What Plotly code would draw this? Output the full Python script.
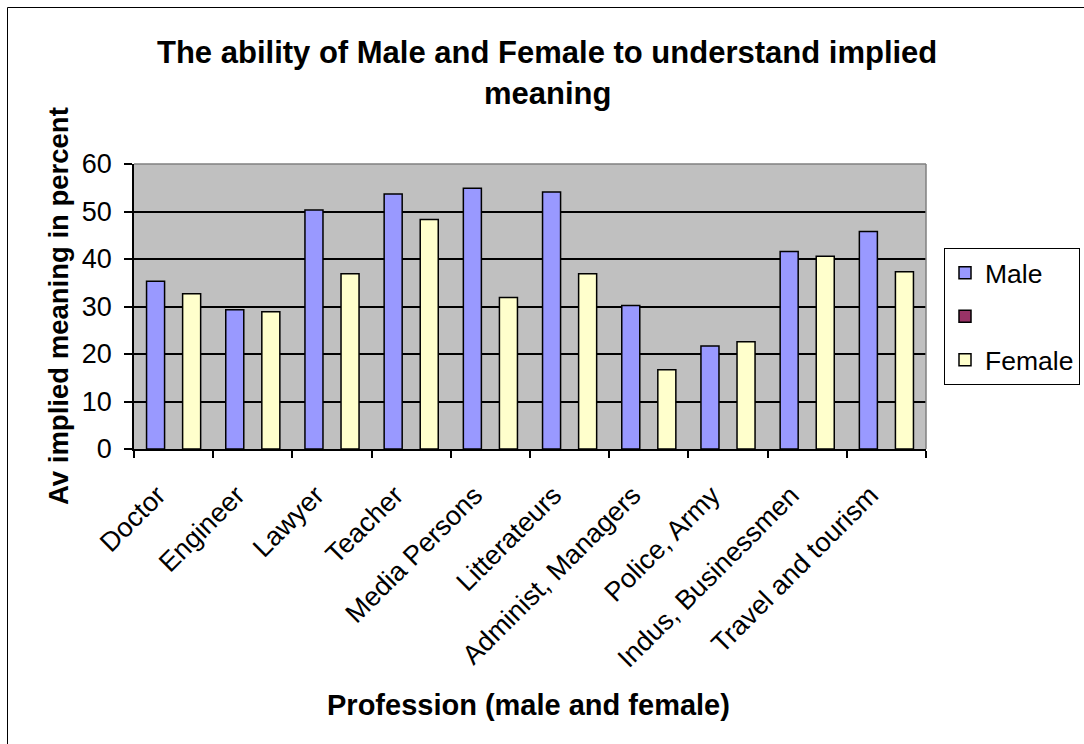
import plotly.graph_objects as go

categories = ["Doctor", "Engineer", "Lawyer", "Teacher", "Media Persons",
              "Litterateurs", "Administ, Managers", "Police, Army",
              "Indus, Businessmen", "Travel and tourism"]
male = [35.3, 29.3, 50.3, 53.7, 54.9, 54.1, 30.2, 21.7, 41.6, 45.8]
blank = [None] * 10
female = [32.7, 28.9, 36.9, 48.3, 31.9, 36.9, 16.7, 22.6, 40.6, 37.3]
series_names = ["Male", " ", "Female"]
y_ticks = [0, 10, 20, 30, 40, 50, 60]

FONT = "Arial, 'Liberation Sans', sans-serif"
W, H = 1084, 744
L, R, T, B = 134, 926, 164, 449
pw, ph = R - L, B - T

def px(x):
    return (x - L) / pw

def py(y):
    return (B - y) / ph

fig = go.Figure()
colors = ["#9999FF", "#993366", "#FFFFCC"]
for i, (name, vals) in enumerate(zip(series_names, [male, blank, female])):
    fig.add_trace(go.Bar(
        x=categories, y=vals, name=name,
        marker=dict(color=colors[i], line=dict(color="black", width=1.5)),
        legendgroup="g%d" % i,
    ))

fig.update_layout(
    width=W, height=H,
    margin=dict(l=L, r=W - R, t=T, b=H - B, autoexpand=False),
    paper_bgcolor="white", plot_bgcolor="#C0C0C0",
    barmode="group", bargap=0.317, bargroupgap=0,
    font=dict(family=FONT, size=27, color="black"),
    showlegend=True,
    legend=dict(
        x=px(944), y=py(248), xanchor="left", yanchor="top",
        bordercolor="black", borderwidth=1, bgcolor="white",
        font=dict(size=26.5, family=FONT),
        traceorder="grouped", tracegroupgap=6,
        itemwidth=30,
    ),
    xaxis=dict(
        type="category", tickson="boundaries", ticks="outside", ticklen=7,
        tickwidth=1.5, tickcolor="black", showline=True, linecolor="black",
        linewidth=1.5, tickangle=-45, showgrid=False,
        tickfont=dict(size=27, family=FONT),
        ticklabelshift=-16, ticklabelstandoff=18,
    ),
    yaxis=dict(
        range=[0, 60], tickvals=y_ticks, ticks="outside", ticklen=8,
        tickwidth=1.5, tickcolor="black", showline=True, linecolor="black",
        linewidth=1.5, showgrid=True, gridcolor="black", gridwidth=1.5,
        zeroline=False, tickfont=dict(size=27, family=FONT),
        ticklabelstandoff=7,
    ),
)

fig.add_annotation(text="<b>The ability of Male and Female to understand implied</b>",
                   xref="paper", yref="paper", x=px(547), y=py(53),
                   showarrow=False, font=dict(size=31, family=FONT),
                   xanchor="center", yanchor="middle")
fig.add_annotation(text="<b>meaning</b>",
                   xref="paper", yref="paper", x=px(547), y=py(94),
                   showarrow=False, font=dict(size=31, family=FONT),
                   xanchor="center", yanchor="middle")
fig.add_annotation(text="<b>Av implied meaning in percent</b>",
                   xref="paper", yref="paper", x=px(58), y=py(306),
                   showarrow=False, textangle=-90,
                   font=dict(size=27.5, family=FONT),
                   xanchor="center", yanchor="middle")
fig.add_annotation(text="<b>Profession (male and female)</b>",
                   xref="paper", yref="paper", x=px(528), y=py(705),
                   showarrow=False, font=dict(size=29, family=FONT),
                   xanchor="center", yanchor="middle")

# plot area top/right border (gray)
fig.add_shape(type="line", xref="paper", yref="paper", x0=0, x1=1, y0=1, y1=1,
              line=dict(color="#808080", width=1.5), layer="above")
fig.add_shape(type="line", xref="paper", yref="paper", x0=1, x1=1, y0=0, y1=1,
              line=dict(color="#808080", width=1.5), layer="above")
# outer chart border
fig.add_shape(type="rect", xref="paper", yref="paper",
              x0=px(7.5), x1=px(1200), y0=py(7.5), y1=py(900),
              line=dict(color="black", width=1), layer="below")

fig.write_html("out.html")
